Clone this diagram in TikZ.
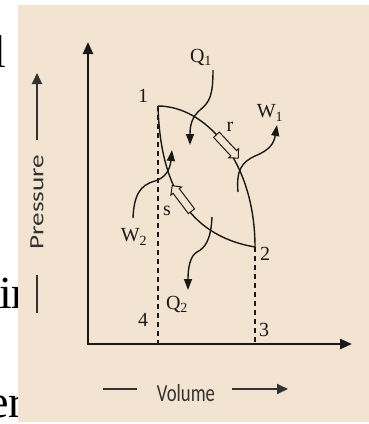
\documentclass[tikz,border=0pt]{standalone}
\usepackage{fontspec}
\setsansfont{Carlito}
\newfontfamily\pagefont{Liberation Serif}
\usetikzlibrary{arrows.meta,shapes.arrows}
\definecolor{panel}{RGB}{243,228,210}
\definecolor{ink}{RGB}{25,25,25}
\definecolor{axtext}{RGB}{50,50,50}

\begin{document}
\begin{tikzpicture}[x=1pt,y=-1pt,
  lbl/.style={font=\pagefont\fontsize{20}{20}\selectfont,text=ink,inner sep=0pt},
  axis/.style={{Triangle[length=12pt,width=10pt]}-{Triangle[length=12pt,width=10pt]},
               line width=2.4pt,draw=ink},
  cycle/.style={line width=1.4pt,draw=ink},
  heat/.style={-{Triangle[length=11pt,width=8pt]},line width=1.4pt,draw=ink},
  guide/.style={dash pattern=on 5pt off 4pt,line width=1.1pt,draw=ink},
  flow/.style={single arrow,draw=ink,fill=panel,line width=1pt,inner sep=3.4pt,
               minimum height=32pt,single arrow head extend=2.8pt,
               single arrow head indent=0pt},
  hint/.style={-{Triangle[length=11pt,width=10pt]},line width=1.8pt,draw=axtext},
  pagetext/.style={font=\pagefont\fontsize{46}{46}\selectfont,inner sep=0pt}
]
\useasboundingbox (0,0) rectangle (369,424);
\fill[white] (0,0) rectangle (369,424);

% cut-off text of the page at the left
\node[pagetext,anchor=base west] (frag1) at (-7,67) {l};
\node[pagetext,anchor=base west] (frag2) at (-1,308) {ir};
\node[pagetext,anchor=base west] (frag3) at (-12,417) {er};
\fill[panel] (18,5) rectangle (369,422);

% axes
\coordinate (o) at (88,344);
\coordinate (ytop) at (88,42);
\coordinate (xend) at (352,344);
\draw[axis] (ytop) -- (o) -- (xend);

% states
\coordinate (p1) at (158,106);
\coordinate (p2) at (255,247);
\coordinate (p3) at (255,344);
\coordinate (p4) at (158,344);
\node[lbl] (n1) at (143,96) {1};
\node[lbl] (n2) at (265,254) {2};
\node[lbl] (n3) at (264,330) {3};
\node[lbl] (n4) at (143,320) {4};

\draw[cycle] (p1) .. controls (205,106) and (255,160) .. (p2);
\draw[cycle] (p1) .. controls (160,180) and (185,235) .. (p2);
\draw[guide] (p1) -- (p4);
\draw[guide] (p2) -- (p3);

% process directions
\node[flow,rotate=-47] (r) at (226,145) {};
\node[flow,rotate=127] (s) at (183,200) {};
\node[lbl] (rl) at (230,127) {r};
\node[lbl] (sl) at (167,211) {s};

% heat and work
\node[lbl] (q1) at (201,57) {Q\textsubscript{1}};
\node[lbl] (w1) at (270,113) {W\textsubscript{1}};
\node[lbl] (w2) at (134,237) {W\textsubscript{2}};
\node[lbl] (q2) at (177,304) {Q\textsubscript{2}};
\coordinate (q1a) at (213,70);
\coordinate (q1b) at (190,145);
\coordinate (w1a) at (238,192);
\coordinate (w1b) at (277,125);
\coordinate (w2a) at (133,218);
\coordinate (w2b) at (172,150);
\coordinate (q2a) at (212,217);
\coordinate (q2b) at (188,290);
\draw[heat] (q1a) .. controls (213,95) and (210,102) .. (200,110)
                  .. controls (192,117) and (190,125) .. (q1b);
\draw[heat] (w1a) .. controls (236,170) and (242,162) .. (255,156)
                  .. controls (270,150) and (274,143) .. (w1b);
\draw[heat] (w2a) .. controls (134,195) and (140,185) .. (155,181)
                  .. controls (165,178) and (170,170) .. (w2b);
\draw[heat] (q2a) .. controls (211,240) and (205,248) .. (197,252)
                  .. controls (190,256) and (188,268) .. (q2b);

% axis names
\node[rotate=90,inner sep=0pt,text=axtext] (plabel) at (37,202)
  {\resizebox{95pt}{13pt}{\sffamily Pressure}};
\coordinate (pu0) at (37,140);
\coordinate (pu1) at (37,73);
\coordinate (pd0) at (37,275);
\coordinate (pd1) at (37,313);
\draw[hint] (pu0) -- (pu1);
\draw[line width=1.8pt,draw=axtext] (pd0) -- (pd1);

\node[inner sep=0pt,text=axtext] (vlabel) at (186,393)
  {\resizebox{58pt}{17pt}{\sffamily Volume}};
\coordinate (vl0) at (103,389);
\coordinate (vl1) at (137,389);
\coordinate (vr0) at (232,389);
\coordinate (vr1) at (288,389);
\draw[line width=1.8pt,draw=axtext] (vl0) -- (vl1);
\draw[hint] (vr0) -- (vr1);
\end{tikzpicture}
\end{document}
